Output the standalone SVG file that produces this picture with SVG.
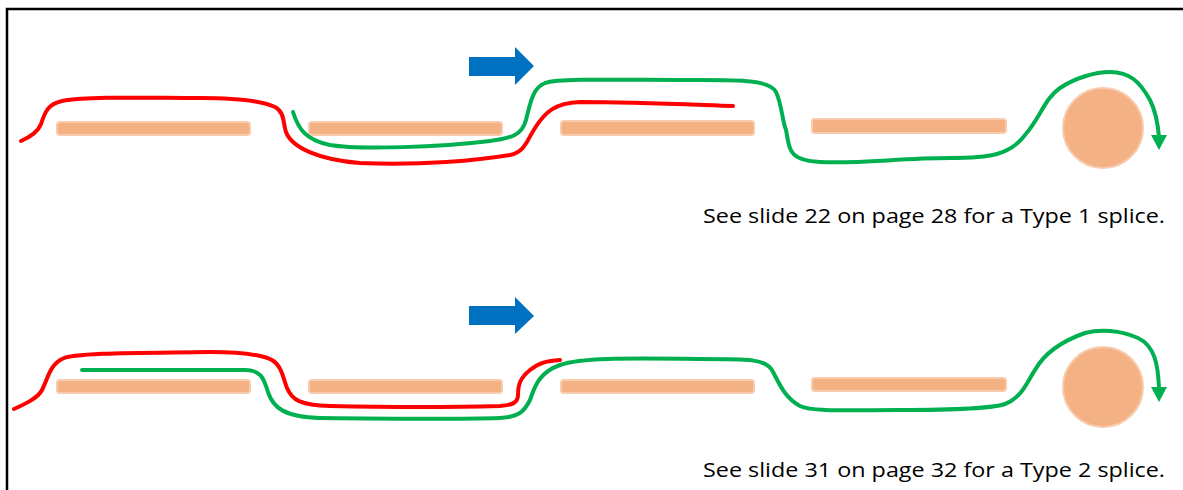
<svg xmlns="http://www.w3.org/2000/svg" width="1183" height="490" viewBox="0 0 1183 490">
<style>
.bar{fill:#F4B183;stroke:#F8CBAD;stroke-width:2}
.red{fill:none;stroke:#FF0000;stroke-width:4;stroke-linecap:round;stroke-linejoin:round}
.green{fill:none;stroke:#00B050;stroke-width:4;stroke-linecap:round;stroke-linejoin:round}
.ghead{fill:#00B050}
.blue{fill:#0070C0}
.cap{font-family:"Open Sans","Liberation Sans",Arial,sans-serif;font-size:20.5px;fill:#000}
</style>
<rect x="7" y="9" width="1190" height="500" fill="#fff" stroke="#000" stroke-width="2.5"/>
<g id="row1">
  <g id="bar1a"><rect class="bar" x="57" y="122" width="193" height="13" rx="3"/></g>
  <g id="bar1b"><rect class="bar" x="309" y="122" width="193" height="13" rx="3"/></g>
  <g id="bar1c"><rect class="bar" x="561" y="121" width="193" height="14" rx="3"/></g>
  <g id="bar1d"><rect class="bar" x="812" y="119" width="194" height="14" rx="3"/></g>
  <g id="roller1"><circle class="bar" cx="1103" cy="128" r="40"/></g>
  <g id="arrow1"><polygon class="blue" points="469,57 515,57 515,47 534,66 515,85 515,76 469,76"/></g>
</g>
<g id="row2">
  <g id="bar2a"><rect class="bar" x="57" y="380" width="193" height="13" rx="3"/></g>
  <g id="bar2b"><rect class="bar" x="309" y="380" width="193" height="13" rx="3"/></g>
  <g id="bar2c"><rect class="bar" x="561" y="380" width="193" height="13" rx="3"/></g>
  <g id="bar2d"><rect class="bar" x="812" y="378" width="194" height="13" rx="3"/></g>
  <g id="roller2"><circle class="bar" cx="1103" cy="387" r="40"/></g>
  <g id="arrow2"><polygon class="blue" points="469,306 515,306 515,297 534,316 515,334 515,325 469,325"/></g>
</g>
<g id="connectors">
  <path class="red" d="M21,141 C30,137 38,132 41,124 C45,112 48,104 62,101 C90,96 150,98 200,98 C235,98 260,100 275,107 C285,112 283,124 286,132 C292,148 320,160 360,163 C420,166 480,160 510,155 C525,152 527,140 535,128 C545,112 555,103 580,102 C640,102 700,105 733,106"/>
  <path class="green" d="M293,112 C298,128 305,140 330,145 C360,150 440,147 490,141 C512,138 522,135 526,120 C530,105 532,88 545,83 C560,78 620,80 700,80 C740,80 770,80 776,92 C782,105 782,120 786,130 C790,150 788,160 820,162 C860,164 900,158 950,158 C990,158 1010,155 1025,135 C1040,118 1045,98 1060,88 C1075,78 1095,72 1110,72 C1130,72 1140,82 1150,100 C1156,112 1158,125 1159,137"/>
  <polygon class="ghead" points="1151,135 1167,135 1159,150"/>
  <path class="red" d="M14,409 C25,404 38,398 42,390 C48,378 50,365 62,359 C75,352 150,353 210,352 C240,352 260,354 272,360 C282,366 283,378 287,388 C292,400 300,405 330,406 C380,407 460,407 500,406 C512,405 518,403 518,395 C518,385 520,378 530,370 C540,362 548,361 560,360"/>
  <path class="green" d="M82,370 L245,370 C262,370 264,380 268,392 C273,408 285,417 320,418 C400,419 470,419 500,418 C520,417 525,410 530,400 C535,385 540,372 560,365 C580,358 620,358 700,359 C750,359 765,359 772,370 C780,385 785,398 800,406 C812,412 850,410 900,410 C950,410 990,409 1005,404 C1022,398 1028,380 1035,370 C1045,352 1065,340 1085,333 C1100,329 1120,330 1138,338 C1155,346 1158,365 1159,388"/>
  <polygon class="ghead" points="1151,387 1167,387 1159,402"/>
</g>
<g id="captions">
  <text class="cap" x="703" y="223" textLength="462" lengthAdjust="spacingAndGlyphs">See slide 22 on page 28 for a Type 1 splice.</text>
  <text class="cap" x="703" y="477" textLength="462" lengthAdjust="spacingAndGlyphs">See slide 31 on page 32 for a Type 2 splice.</text>
</g>
</svg>
